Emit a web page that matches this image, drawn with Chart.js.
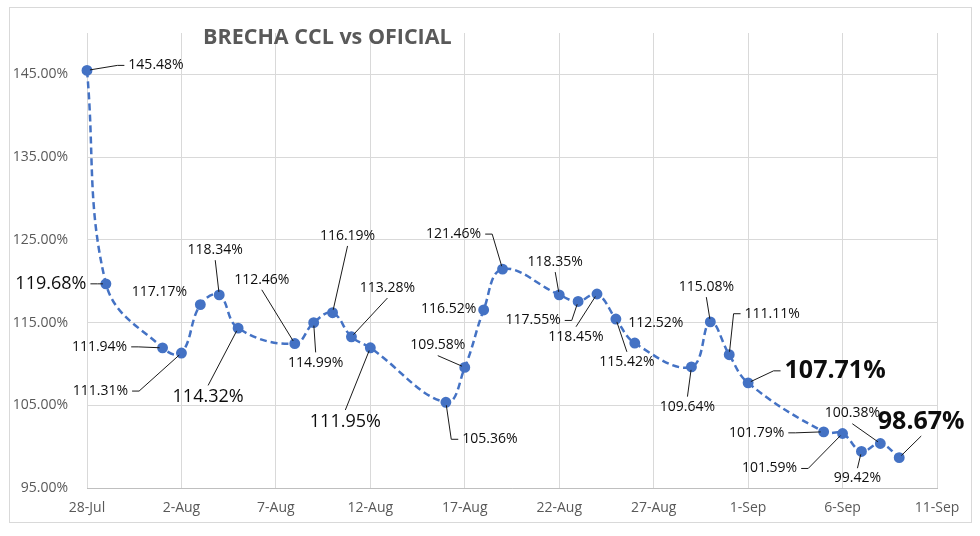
<!DOCTYPE html>
<html>
<head>
<meta charset="utf-8">
<script src="https://cdn.jsdelivr.net/npm/chart.js@4/dist/chart.umd.min.js"></script>
<style>
  html, body { margin: 0; padding: 0; background: #ffffff; }
  canvas { display: block; }
</style>
</head>
<body>
<canvas id="brecha" width="980" height="536"></canvas>
<script>
// datos de la brecha CCL vs oficial
const fechas = [
    '2022-07-28', '2022-07-29', '2022-08-01', '2022-08-02', '2022-08-03', '2022-08-04',
    '2022-08-05', '2022-08-08', '2022-08-09', '2022-08-10', '2022-08-11', '2022-08-12',
    '2022-08-16', '2022-08-17', '2022-08-18', '2022-08-19', '2022-08-22', '2022-08-23',
    '2022-08-24', '2022-08-25', '2022-08-26', '2022-08-29', '2022-08-30', '2022-08-31',
    '2022-09-01', '2022-09-05', '2022-09-06', '2022-09-07', '2022-09-08', '2022-09-09'
];
const brecha = [
    145.48, 119.68, 111.94, 111.31, 117.17, 118.34,
    114.32, 112.46, 114.99, 116.19, 113.28, 111.95,
    105.36, 109.58, 116.52, 121.46, 118.35, 117.55,
    118.45, 115.42, 112.52, 109.64, 115.08, 111.11,
    107.71, 101.79, 101.59, 99.42, 100.38, 98.67
];
const xTickLabels = ['28-Jul', '2-Aug', '7-Aug', '12-Aug', '17-Aug', '22-Aug', '27-Aug', '1-Sep', '6-Sep', '11-Sep'];
const yTicks = [95, 105, 115, 125, 135, 145];
const titulo = 'BRECHA CCL vs OFICIAL';

// posicion de cada etiqueta respecto al punto: [dx, dy, tamaño, lado de la linea guia]
const etiquetas = [
    [69, -5, 'n', 'L'], [-55, 0, 'g', 'R'], [-63, -1, 'n', 'R'], [-81, 38, 'n', 'R'],
    [-41, -13, 'n', ''], [-4, -45, 'n', 'B'], [-30, 69, 'g', 'T'], [-33, -64, 'n', 'B'],
    [2, 40, 'n', 'T'], [15, -77, 'n', 'B'], [36, -49, 'n', 'B'], [-25, 74, 'g', 'T'],
    [44, 37, 'n', 'L'], [-27, -22, 'n', 'B'], [-35, -1, 'n', ''], [-49, -35, 'n', 'R'],
    [-4, -33, 'n', 'B'], [-45, 19, 'n', 'R'], [-21, 43, 'n', 'T'], [11, 43, 'n', 'T'],
    [21, -20, 'n', ''], [-4, 40, 'n', 'T'], [-4, -35, 'n', 'B'], [43, -41, 'n', 'L'],
    [87, -12, 'b', 'L'], [-67, 1, 'n', 'R'], [-73, 35, 'n', 'R'], [-4, 27, 'n', 'T'],
    [-28, -30, 'n', 'B'], [22, -36, 'b', 'B']
];

const FUENTE = '"Open Sans", "Liberation Sans", sans-serif';
const fuentes = {
    n: { size: 14, weight: 'normal' },
    g: { size: 18, weight: 'normal' },
    b: { size: 25, weight: 'bold' }
};

const dia0 = Date.parse(fechas[0]);
const puntos = fechas.map((f, i) => ({ x: (Date.parse(f) - dia0) / 86400000, y: brecha[i] }));

// etiquetas con lineas guia, estilo excel
const pluginEtiquetas = {
    id: 'etiquetas',
    beforeDraw(chart) {
        const ctx = chart.ctx;
        ctx.save();
        ctx.fillStyle = '#ffffff';
        ctx.fillRect(0, 0, chart.width, chart.height);
        ctx.strokeStyle = '#d9d9d9';
        ctx.lineWidth = 1;
        ctx.strokeRect(9.5, 7.5, 962, 515);
        ctx.restore();
    },
    afterDatasetsDraw(chart) {
        const ctx = chart.ctx;
        const meta = chart.getDatasetMeta(0);
        ctx.save();
        meta.data.forEach((pt, i) => {
            const [dx, dy, tam, lado] = etiquetas[i];
            const f = fuentes[tam];
            const texto = brecha[i].toFixed(2) + '%';
            ctx.font = f.weight + ' ' + f.size + 'px ' + FUENTE;
            const w = ctx.measureText(texto).width;
            const h = f.size * 0.75;
            const cx = pt.x + dx;
            const cy = pt.y + dy;
            ctx.fillStyle = '#0d0d0d';
            ctx.textAlign = 'center';
            ctx.textBaseline = 'middle';
            ctx.fillText(texto, cx, cy);

            if (!lado) return;
            const x1 = cx - w / 2 - 4, x2 = cx + w / 2 + 4;
            const y1 = cy - h / 2 - 5, y2 = cy + h / 2 + 5;
            let camino;
            if (lado === 'L') camino = [[x1, cy], [x1 - 7, cy]];
            else if (lado === 'R') camino = [[x2, cy], [x2 + 7, cy]];
            else if (lado === 'T') camino = [[cx, y1]];
            else camino = [[cx, y2]];
            const ult = camino[camino.length - 1];
            const vx = pt.x - ult[0], vy = pt.y - ult[1];
            const d = Math.hypot(vx, vy) || 1;
            camino.push([pt.x - vx / d * 3, pt.y - vy / d * 3]);
            ctx.strokeStyle = '#1a1a1a';
            ctx.lineWidth = 1;
            ctx.beginPath();
            camino.forEach((p, k) => k ? ctx.lineTo(p[0], p[1]) : ctx.moveTo(p[0], p[1]));
            ctx.stroke();
        });
        ctx.restore();
    },
    afterDraw(chart) {
        const ctx = chart.ctx;
        ctx.save();
        ctx.font = 'bold 21.5px ' + FUENTE;
        ctx.fillStyle = '#595959';
        ctx.textAlign = 'left';
        ctx.textBaseline = 'middle';
        ctx.fillText(titulo, 203, 38);
        ctx.restore();
    }
};

const ctx = document.getElementById('brecha').getContext('2d');
new Chart(ctx, {
    type: 'line',
    data: {
        datasets: [{
            label: 'Brecha',
            data: puntos,
            borderColor: '#4472C4',
            borderWidth: 2.5,
            borderDash: [7, 4],
            tension: 0.4,
            pointRadius: 4.2,
            pointBackgroundColor: '#4472C4',
            pointBorderColor: '#4472C4',
            clip: false
        }]
    },
    options: {
        responsive: false,
        devicePixelRatio: 1,
        animation: false,
        layout: { padding: { left: 9, right: 43, top: 33, bottom: 0 } },
        plugins: {
            legend: { display: false },
            tooltip: { enabled: false }
        },
        scales: {
            x: {
                type: 'linear',
                min: 0,
                max: 45,
                afterBuildTicks: scale => { scale.ticks = xTickLabels.map((t, i) => ({ value: i * 5 })); },
                afterFit: scale => { scale.height = 48; },
                ticks: {
                    callback: (v, i) => xTickLabels[i],
                    color: '#595959',
                    font: { family: FUENTE, size: 14 },
                    padding: 12,
                    maxRotation: 0
                },
                grid: { color: '#d9d9d9', drawTicks: false },
                border: { color: '#bfbfbf' }
            },
            y: {
                min: 95,
                max: 150,
                afterBuildTicks: scale => { scale.ticks = yTicks.map(v => ({ value: v })); },
                afterFit: scale => { scale.width = 78; },
                ticks: {
                    callback: v => v.toFixed(2) + '%',
                    color: '#595959',
                    font: { family: FUENTE, size: 14 },
                    padding: 19
                },
                grid: { color: '#d9d9d9', drawTicks: false },
                border: { display: false }
            }
        }
    },
    plugins: [pluginEtiquetas]
});
</script>
</body>
</html>
